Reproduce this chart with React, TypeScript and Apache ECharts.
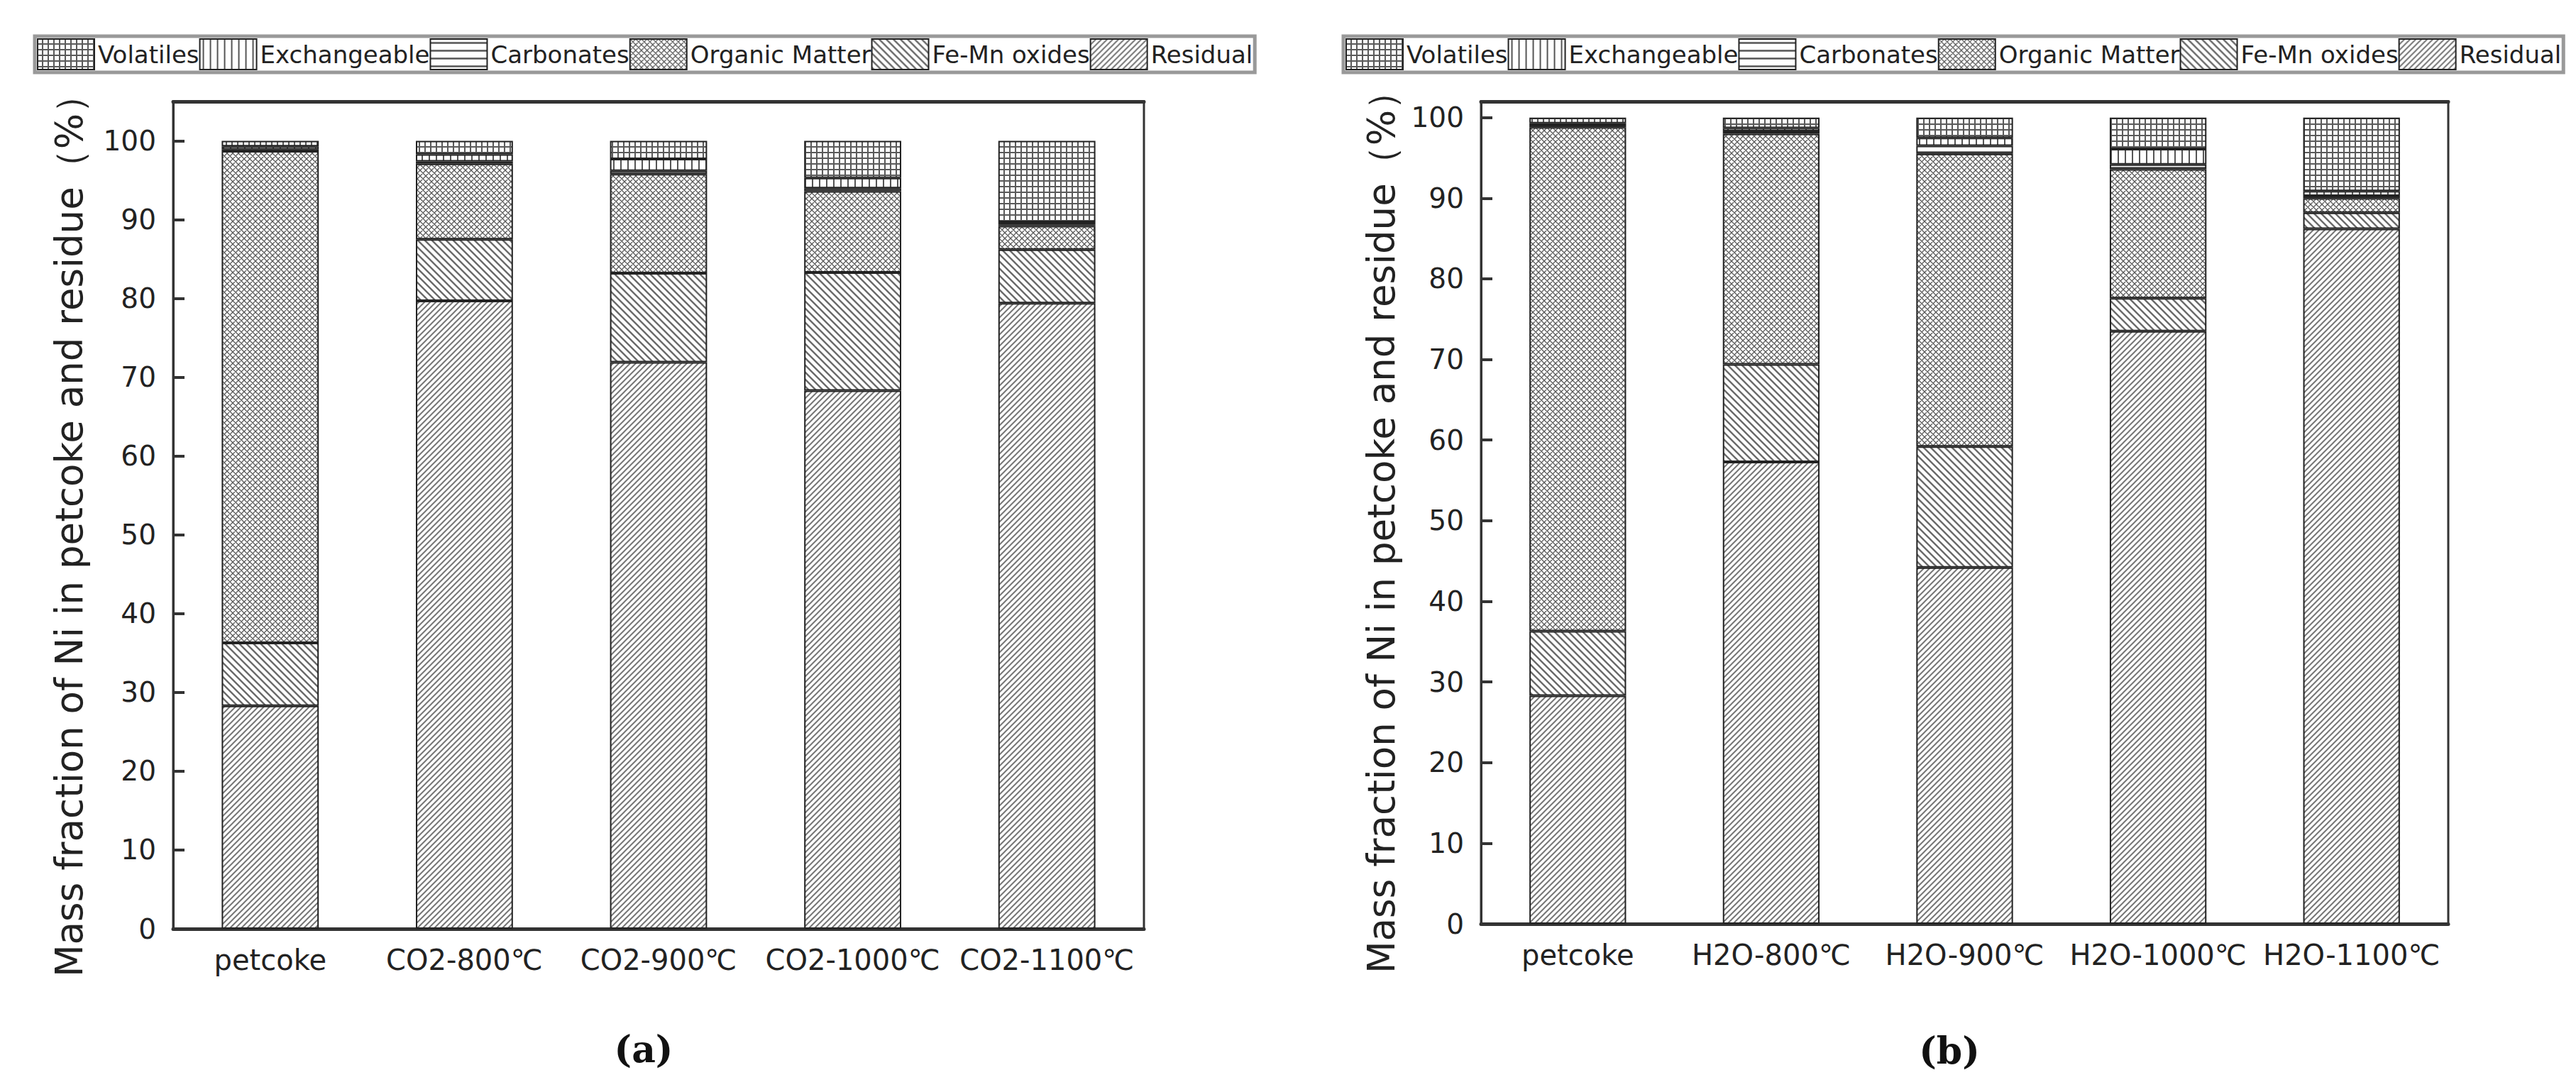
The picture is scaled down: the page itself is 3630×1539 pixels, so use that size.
import React, { useEffect, useRef } from 'react';
import * as echarts from 'echarts';

const categoriesCO2 = ['petcoke', 'CO2-800℃', 'CO2-900℃', 'CO2-1000℃', 'CO2-1100℃'];
const categoriesH2O = ['petcoke', 'H2O-800℃', 'H2O-900℃', 'H2O-1000℃', 'H2O-1100℃'];
const legendNames = ['Volatiles', 'Exchangeable', 'Carbonates', 'Organic Matter', 'Fe-Mn oxides', 'Residual'];
const yTickLabels = [0, 10, 20, 30, 40, 50, 60, 70, 80, 90, 100];

// (a) CO2 gasification
const co2Residual = [28.3, 79.7, 71.9, 68.3, 79.4];
const co2FeMn = [8.0, 7.8, 11.3, 15.0, 6.8];
const co2Organic = [62.4, 9.6, 12.6, 10.3, 3.0];
const co2Carbonates = [0.2, 0.3, 0.4, 0.4, 0.2];
const co2Exchangeable = [0.4, 0.9, 1.5, 1.3, 0.3];
const co2Volatiles = [0.7, 1.7, 2.3, 4.7, 10.3];

// (b) H2O gasification
const h2oResidual = [28.3, 57.3, 44.2, 73.5, 86.2];
const h2oFeMn = [8.0, 12.1, 15.0, 4.1, 2.0];
const h2oOrganic = [62.5, 28.6, 36.3, 16.0, 1.8];
const h2oCarbonates = [0.2, 0.3, 1.0, 0.6, 0.3];
const h2oExchangeable = [0.3, 0.4, 1.0, 1.9, 0.6];
const h2oVolatiles = [0.7, 1.3, 2.5, 3.9, 9.1];

const yTitle = 'Mass fraction of Ni in petcoke and residue（%）';
const FONT = 'DejaVu Sans';

function makePattern(kind: string) {
  const sizes: Record<string, number> = { vol: 8, exc: 10, carb: 11, org: 8, femn: 10, res: 8 };
  const s = sizes[kind];
  const c = document.createElement('canvas');
  c.width = s;
  c.height = s;
  const g = c.getContext('2d')!;
  g.fillStyle = '#ffffff';
  g.fillRect(0, 0, s, s);
  g.strokeStyle = '#666666';
  g.lineCap = 'square';
  g.beginPath();
  if (kind === 'vol') {
    g.lineWidth = 2;
    g.strokeStyle = '#5a5a5a';
    g.moveTo(0, s - 1); g.lineTo(s, s - 1);
    g.moveTo(s - 1, 0); g.lineTo(s - 1, s);
  } else if (kind === 'exc') {
    g.lineWidth = 2;
    g.strokeStyle = '#555555';
    g.moveTo(s / 2, 0); g.lineTo(s / 2, s);
  } else if (kind === 'carb') {
    g.lineWidth = 2.5;
    g.strokeStyle = '#555555';
    g.moveTo(0, s / 2); g.lineTo(s, s / 2);
  } else if (kind === 'org') {
    g.lineWidth = 1.3;
    g.strokeStyle = '#5a5a5a';
    g.moveTo(0, s); g.lineTo(s, 0);
    g.moveTo(-1, 1); g.lineTo(1, -1);
    g.moveTo(s - 1, s + 1); g.lineTo(s + 1, s - 1);
    g.moveTo(0, 0); g.lineTo(s, s);
    g.moveTo(-1, s - 1); g.lineTo(1, s + 1);
    g.moveTo(s - 1, -1); g.lineTo(s + 1, 1);
  } else if (kind === 'femn') {
    g.lineWidth = 2.4;
    g.strokeStyle = '#6a6a6a';
    g.moveTo(0, 0); g.lineTo(s, s);
    g.moveTo(-2, s - 2); g.lineTo(2, s + 2);
    g.moveTo(s - 2, -2); g.lineTo(s + 2, 2);
  } else if (kind === 'res') {
    g.lineWidth = 2;
    g.strokeStyle = '#777777';
    g.moveTo(0, s); g.lineTo(s, 0);
    g.moveTo(-2, 2); g.lineTo(2, -2);
    g.moveTo(s - 2, s + 2); g.lineTo(s + 2, s - 2);
  }
  g.stroke();
  return { image: c.toDataURL(), repeat: 'repeat', imageWidth: s, imageHeight: s } as any;
}

function buildOption() {
  const patterns: Record<string, any> = {
    Volatiles: makePattern('vol'),
    Exchangeable: makePattern('exc'),
    Carbonates: makePattern('carb'),
    'Organic Matter': makePattern('org'),
    'Fe-Mn oxides': makePattern('femn'),
    Residual: makePattern('res'),
  };

  const stackOrder = ['Residual', 'Fe-Mn oxides', 'Organic Matter', 'Carbonates', 'Exchangeable', 'Volatiles'];
  const co2Data: Record<string, number[]> = {
    Residual: co2Residual,
    'Fe-Mn oxides': co2FeMn,
    'Organic Matter': co2Organic,
    Carbonates: co2Carbonates,
    Exchangeable: co2Exchangeable,
    Volatiles: co2Volatiles,
  };
  const h2oData: Record<string, number[]> = {
    Residual: h2oResidual,
    'Fe-Mn oxides': h2oFeMn,
    'Organic Matter': h2oOrganic,
    Carbonates: h2oCarbonates,
    Exchangeable: h2oExchangeable,
    Volatiles: h2oVolatiles,
  };

  const mkSeries = (data: Record<string, number[]>, stack: string, xIdx: number, yIdx: number) =>
    stackOrder.map((name) => ({
      name,
      type: 'bar',
      stack,
      xAxisIndex: xIdx,
      yAxisIndex: yIdx,
      barWidth: '50%',
      data: data[name],
      itemStyle: { color: patterns[name], borderColor: '#222', borderWidth: 2 },
      emphasis: { disabled: true },
    }));

  const legendCommon = {
    data: legendNames,
    orient: 'horizontal',
    icon: 'rect',
    itemWidth: 80,
    itemHeight: 43,
    itemGap: 0,
    padding: [3, 3],
    borderColor: '#999',
    borderWidth: 5,
    backgroundColor: '#fff',
    selectedMode: false,
    textStyle: { fontFamily: FONT, fontSize: 34, color: '#222' },
  };

  const xAxisBase = (gridIndex: number, data: string[]) => ({
    gridIndex,
    type: 'category',
    data,
    axisLine: { show: true, lineStyle: { color: '#333', width: 5 } },
    axisTick: { show: false },
    axisLabel: { fontFamily: FONT, fontSize: 40, color: '#222', margin: 24, interval: 0 },
    splitLine: { show: false },
  });
  const xAxisTop = (gridIndex: number, data: string[]) => ({
    gridIndex,
    type: 'category',
    position: 'top',
    data,
    axisLine: { show: true, lineStyle: { color: '#333', width: 5 } },
    axisTick: { show: false },
    axisLabel: { show: false },
    splitLine: { show: false },
  });
  const yAxisBase = (gridIndex: number, max: number) => ({
    gridIndex,
    type: 'value',
    min: 0,
    max,
    interval: 10,
    axisLine: { show: true, lineStyle: { color: '#333', width: 3 } },
    axisTick: { show: true, inside: true, length: 16, lineStyle: { color: '#333', width: 4 } },
    axisLabel: {
      fontFamily: FONT,
      fontSize: 39,
      color: '#222',
      margin: 24,
      formatter: (v: number) => (yTickLabels.indexOf(v) >= 0 ? String(v) : ''),
    },
    splitLine: { show: false },
  });

  return {
    animation: false,
    backgroundColor: '#fff',
    legend: [
      { ...legendCommon, left: 49, top: 51 },
      { ...legendCommon, left: 1893, top: 51 },
    ],
    grid: [
      { left: 244, top: 143, width: 1368, height: 1166, show: true, borderColor: '#333', borderWidth: 3, backgroundColor: 'transparent' },
      { left: 2087, top: 143, width: 1363, height: 1159, show: true, borderColor: '#333', borderWidth: 3, backgroundColor: 'transparent' },
    ],
    xAxis: [
      xAxisBase(0, categoriesCO2),
      xAxisTop(0, categoriesCO2),
      xAxisBase(1, categoriesH2O),
      xAxisTop(1, categoriesH2O),
    ],
    yAxis: [yAxisBase(0, 105), yAxisBase(1, 102)],
    series: [...mkSeries(co2Data, 'co2', 0, 0), ...mkSeries(h2oData, 'h2o', 2, 1)],
    graphic: [
      {
        type: 'text',
        x: 97,
        y: 742,
        rotation: Math.PI / 2,
        style: { text: yTitle, font: `53px "${FONT}"`, fill: '#222', textAlign: 'center', textVerticalAlign: 'middle' },
      },
      {
        type: 'text',
        x: 1946,
        y: 737,
        rotation: Math.PI / 2,
        style: { text: yTitle, font: `53px "${FONT}"`, fill: '#222', textAlign: 'center', textVerticalAlign: 'middle' },
      },
      {
        type: 'text',
        x: 907,
        y: 1478,
        style: { text: '(a)', font: 'bold 52px "DejaVu Serif"', fill: '#111', textAlign: 'center', textVerticalAlign: 'middle' },
      },
      {
        type: 'text',
        x: 2747,
        y: 1480,
        style: { text: '(b)', font: 'bold 52px "DejaVu Serif"', fill: '#111', textAlign: 'center', textVerticalAlign: 'middle' },
      },
    ],
  };
}

export default function App() {
  const ref = useRef<HTMLDivElement>(null);
  useEffect(() => {
    if (!ref.current) return;
    const chart = echarts.init(ref.current, null, { renderer: 'svg', width: 3630, height: 1539 });
    chart.setOption(buildOption() as any);
    return () => chart.dispose();
  }, []);
  return (
    <div
      ref={ref}
      style={{ position: 'absolute', left: 0, top: 0, width: 3630, height: 1539, background: '#fff' }}
    />
  );
}
